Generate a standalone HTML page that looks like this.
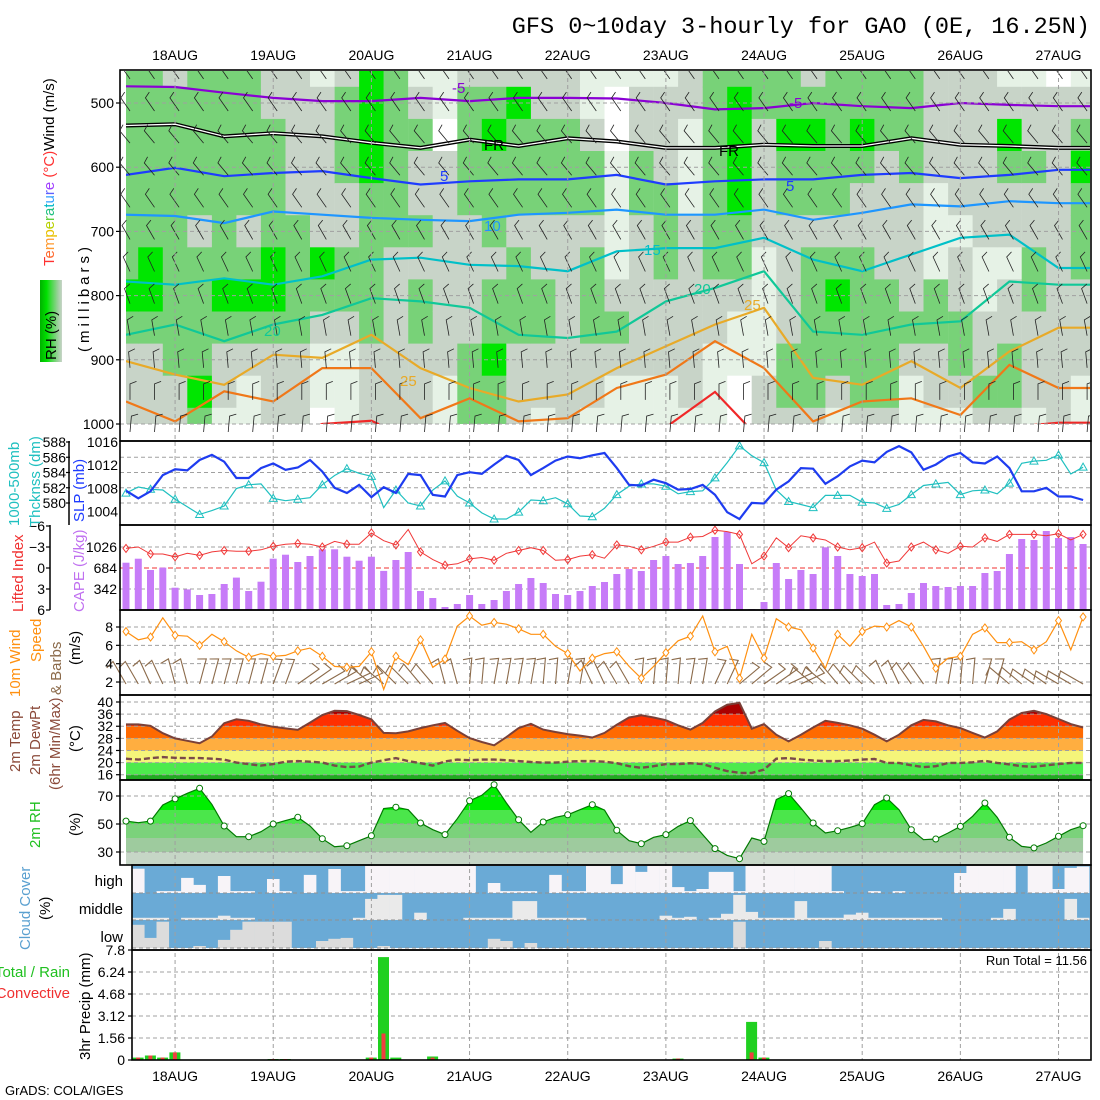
<!DOCTYPE html>
<html><head><meta charset="utf-8"><style>
body{margin:0;background:#fff}
svg{display:block;font-family:"Liberation Sans",sans-serif}
</style></head><body>
<svg id="chart" width="1100" height="1100" viewBox="0 0 1100 1100" xmlns="http://www.w3.org/2000/svg">
<defs>
<clipPath id="clipP1"><rect x="126" y="71" width="964" height="353"/></clipPath>
<clipPath id="clipBarb"><rect x="121" y="71" width="969" height="369"/></clipPath>
<linearGradient id="rhbar" x1="0" x2="1" y1="0" y2="0">
<stop offset="0" stop-color="#00b000"/><stop offset="0.3" stop-color="#00e000"/><stop offset="0.55" stop-color="#50d850"/><stop offset="0.8" stop-color="#98d098"/><stop offset="1" stop-color="#c8d4c8"/>
</linearGradient>
</defs>
<rect x="0" y="0" width="1100" height="1100" fill="#fff"/>
<g id="g-p1"></g>
<g id="g-panels"></g>
<g id="g-grid"></g>
<g id="g-series"></g>
<g id="g-frames"></g>
<g id="g-ticks" font-size="14" fill="#000"></g>

<text x="1090" y="33" text-anchor="end" font-family="Liberation Mono, monospace" font-size="23.5">GFS 0~10day 3-hourly for GAO (0E, 16.25N)</text>

<rect x="40" y="280" width="22" height="82" fill="url(#rhbar)"/>
<text transform="translate(56,360) rotate(-90)" font-size="15">RH (%)</text>
<text transform="translate(54,266) rotate(-90)" font-size="15"><tspan fill="#ff3030">T</tspan><tspan fill="#ff6a30">e</tspan><tspan fill="#ff9a30">m</tspan><tspan fill="#e8c000">p</tspan><tspan fill="#b8d000">e</tspan><tspan fill="#60d040">r</tspan><tspan fill="#20c080">a</tspan><tspan fill="#00b8c8">t</tspan><tspan fill="#30a0ff">u</tspan><tspan fill="#6060ff">r</tspan><tspan fill="#a040ff">e</tspan><tspan fill="#ff3030"> (°C)</tspan><tspan fill="#000">Wind (m/s)</tspan></text>
<text transform="translate(89,352) rotate(-90)" font-size="15" letter-spacing="4">(millibars)</text>

<text transform="translate(19,526) rotate(-90)" font-size="15" fill="#20c0c0">1000-500mb</text>
<text transform="translate(40,527) rotate(-90)" font-size="15" fill="#20c0c0">Thcknss (dm)</text>
<text transform="translate(84,522) rotate(-90)" font-size="15" fill="#1e3cff">SLP (mb)</text>
<text transform="translate(23,612) rotate(-90)" font-size="15" fill="#f03030">Lifted Index</text>
<text transform="translate(84,612) rotate(-90)" font-size="15" fill="#c070f0">CAPE (J/kg)</text>
<text transform="translate(20,697) rotate(-90)" font-size="15" fill="#ff9010">10m Wind</text>
<text transform="translate(41,662) rotate(-90)" font-size="15" fill="#ff9010">Speed</text>
<text transform="translate(61,695) rotate(-90)" font-size="15" fill="#8b6a4a">&amp; Barbs</text>
<text transform="translate(80,665) rotate(-90)" font-size="15">(m/s)</text>
<text transform="translate(20,772) rotate(-90)" font-size="15" fill="#8b4a3a">2m Temp</text>
<text transform="translate(40,775) rotate(-90)" font-size="15" fill="#8b4a3a">2m DewPt</text>
<text transform="translate(60,790) rotate(-90)" font-size="15" fill="#8b4a3a">(6hr Min/Max)</text>
<text transform="translate(80,752) rotate(-90)" font-size="15">(°C)</text>
<text transform="translate(40,848) rotate(-90)" font-size="15" fill="#20c020">2m RH</text>
<text transform="translate(80,836) rotate(-90)" font-size="15">(%)</text>
<text transform="translate(30,950) rotate(-90)" font-size="15" fill="#5aa0d0">Cloud Cover</text>
<text transform="translate(50,920) rotate(-90)" font-size="15">(%)</text>
<text x="123" y="886" text-anchor="end" font-size="15">high</text>
<text x="123" y="914" text-anchor="end" font-size="15">middle</text>
<text x="123" y="942" text-anchor="end" font-size="15">low</text>
<text x="70" y="977" text-anchor="end" font-size="15" fill="#20c020">Total / Rain</text>
<text x="70" y="998" text-anchor="end" font-size="15" fill="#f03030">Convective</text>
<text transform="translate(90,1060) rotate(-90)" font-size="15">3hr Precip (mm)</text>
<text x="1087" y="965" text-anchor="end" font-size="13">Run Total = 11.56</text>
<text x="5" y="1095" font-size="13">GrADS: COLA/IGES</text>
</svg>
<script>
const dayLabels=["18AUG","19AUG","20AUG","21AUG","22AUG","23AUG","24AUG","25AUG","26AUG","27AUG"];
const slp=[1007.6,1006.3,1007.5,1010.3,1011.3,1011.1,1012.9,1013.8,1012.6,1009.8,1009.8,1011.5,1012.3,1011.2,1011.6,1012.9,1010.9,1008.1,1007.2,1008.6,1006.5,1008.2,1007.2,1010.5,1010.3,1006.9,1006.6,1010.3,1010.8,1010.5,1012.1,1013.6,1012.9,1010.3,1011.5,1012.8,1013.5,1013.2,1013.7,1014.1,1011.5,1008.6,1008.5,1009.5,1008.9,1007.8,1007.9,1008.6,1006.9,1003.9,1002.7,1005.5,1005.4,1007.8,1009.2,1011.5,1011.4,1008.8,1010.1,1011.8,1012.8,1012.5,1014.3,1015.3,1014.2,1011.2,1012.1,1013.5,1014.1,1012.5,1012.3,1013.5,1011.5,1007.5,1007.5,1008.1,1006.6,1006.6,1006.0];
const thick=[581.3,582.1,581.8,581.7,580.5,579.5,578.5,579.0,579.6,581.9,582.4,582.5,580.6,580.3,580.5,580.7,582.4,583.6,584.5,583.9,583.5,579.4,581.7,580.0,579.6,581.7,582.9,580.9,580.0,578.7,577.9,577.9,578.8,580.4,580.3,580.7,579.9,578.3,578.2,579.3,581.1,582.2,582.5,582.5,582.2,581.2,581.5,581.6,583.3,585.3,587.5,586.2,585.3,581.7,580.2,579.8,579.4,581.0,581.0,581.0,580.1,580.0,579.3,579.8,581.1,582.3,582.5,582.7,581.1,581.6,581.7,581.2,582.6,585.2,585.5,585.6,586.3,583.8,584.7];
const cape=[771,836,652,690,364,336,244,261,424,527,310,461,836,901,782,880,988,988,868,803,868,637,814,945,310,195,49,98,244,98,163,310,424,521,440,261,244,310,391,456,586,668,635,814,880,749,766,880,1189,1271,749,16,130,766,505,652,586,1021,880,586,554,586,81,98,277,440,391,375,391,391,603,635,912,1157,1140,1287,1173,1189,1075];
const liftedIndex=[-2.8,-3.0,-2.0,-2.0,-1.6,-2.1,-1.8,-2.3,-2.5,-2.4,-2.4,-2.6,-3.1,-3.4,-3.5,-3.4,-3.0,-3.8,-3.4,-3.4,-5.0,-3.9,-3.3,-5.5,-2.3,-1.2,-0.4,-0.6,-1.3,-1.5,-1.1,-2.1,-2.5,-2.9,-2.5,-1.1,-1.2,-1.7,-1.9,-1.4,-3.3,-3.1,-2.6,-3.1,-3.7,-3.7,-4.4,-4.5,-5.4,-5.2,-4.8,-0.6,-1.7,-4.3,-2.9,-4.6,-4.3,-4.0,-3.0,-2.6,-2.9,-3.7,-0.7,-1.0,-3.0,-3.7,-2.6,-2.1,-3.1,-3.0,-4.3,-3.8,-4.8,-4.8,-4.8,-4.6,-4.9,-4.0,-4.8];
const windSpeed=[7.5,6.6,6.9,9.0,7.1,7.0,6.0,7.2,6.4,5.4,4.7,5.1,4.8,4.9,5.4,5.7,4.8,3.7,3.6,3.7,5.3,1.2,4.8,3.9,6.6,3.6,4.5,8.1,9.2,8.2,8.5,8.3,7.8,7.2,7.2,5.9,5.1,3.2,4.6,5.1,5.3,3.7,2.4,3.7,5.2,6.5,7.0,9.2,5.3,5.9,2.4,7.2,4.6,8.9,8.0,7.7,5.7,3.5,7.2,5.9,7.5,8.1,8.0,8.7,8.0,5.9,3.5,4.6,4.8,7.2,7.9,6.3,6.3,6.4,5.5,6.4,8.7,5.5,9.1];
const sfcWindTilt=[-30,-25,-15,15,15,15,20,55,60,65,-50,-45,-40,-15,5,10,10,5,10,-25,-30,5,5,10,25,50,55,65,-50,-40,-45,-25,-35,10,5,15,-50,-55,-60,-60];
const temp2m=[32.6,32.6,32.1,29.7,28.0,27.2,26.4,28.6,33.0,34.3,33.8,32.6,31.8,31.3,30.8,33.2,35.7,37.1,37.0,35.7,34.3,29.8,29.7,30.3,31.4,32.3,33.1,30.5,28.1,26.8,25.7,28.4,31.4,32.8,30.9,30.1,29.4,28.9,28.3,29.8,32.5,34.9,35.6,34.9,34.0,32.3,30.9,33.1,36.9,39.1,39.7,31.2,32.7,29.2,27.0,29.2,31.6,33.8,33.1,32.3,31.2,29.2,27.0,29.2,32.3,34.1,33.6,32.3,31.4,29.8,28.3,30.3,34.2,36.4,37.1,36.0,34.4,32.7,31.6];
const dewpt2m=[21.3,21.0,21.5,21.8,21.6,21.5,21.5,21.3,21.0,20.0,19.5,19.0,19.5,20.3,20.5,20.3,20.0,19.0,18.5,18.7,20.0,20.8,21.5,20.5,19.8,19.0,20.4,21.0,20.8,21.0,21.0,20.8,20.5,20.2,20.0,20.0,20.3,20.5,20.5,20.3,19.8,18.8,18.3,18.8,19.5,19.5,19.8,19.5,18.3,17.2,16.6,16.6,17.7,21.3,21.5,21.0,20.7,20.5,20.5,20.7,21.0,21.2,19.9,19.9,19.1,18.5,18.8,19.9,19.9,20.1,20.6,19.9,19.4,18.8,18.6,19.1,19.5,19.9,19.9];
const rh2m=[52.1,50.9,52.1,63.6,67.9,71.9,75.5,64.0,48.6,40.9,40.9,44.5,50.0,52.4,54.8,48.6,39.5,33.8,34.5,38.1,41.6,61.1,62.0,60.2,50.7,45.9,42.4,53.8,66.6,70.5,78.1,65.0,53.1,44.1,51.4,54.8,56.6,60.2,63.8,59.9,45.5,38.1,35.9,40.5,42.4,48.3,52.4,42.4,32.4,27.6,25.2,40.0,37.6,67.4,71.7,61.4,50.7,43.6,45.2,47.6,50.2,63.8,68.6,60.2,45.9,38.8,39.3,43.6,48.3,55.5,65.0,54.8,40.5,34.0,32.9,36.4,41.2,45.9,48.8];
const cloudHigh=[10,100,93,93,44,70,100,37,93,93,100,48,93,100,33,100,11,93,93,0,0,0,0,0,0,0,0,0,100,63,93,93,93,100,33,93,93,0,0,67,0,22,0,0,78,93,85,22,22,93,0,0,0,0,0,0,0,93,100,100,93,100,93,100,100,100,100,26,0,0,0,0,100,0,0,85,7,2];
const cloudMid=[92,92,92,100,92,92,92,84,92,92,100,100,100,100,100,100,100,100,92,22,7,7,100,73,100,100,100,92,92,92,92,30,30,92,92,92,92,100,100,100,100,100,100,84,92,88,100,92,77,7,70,92,92,92,30,92,92,92,80,73,92,92,92,92,92,92,100,100,100,100,92,59,100,100,100,100,22,92];
const cloudLow=[17,64,6,100,100,93,100,71,35,6,6,6,6,100,100,75,67,64,100,100,93,100,100,100,100,100,100,100,100,67,75,100,82,100,100,100,100,100,100,100,100,100,100,100,100,100,100,100,100,6,100,100,100,100,100,100,75,100,100,100,100,100,100,100,100,100,100,100,100,100,100,100,100,100,100,100,100,100];
const precipTotal=[0.17,0.32,0.17,0.54,0,0,0,0,0,0,0,0.07,0.07,0,0,0,0,0,0,0.17,7.3,0.17,0,0,0.25,0,0,0,0,0,0,0,0,0,0,0,0,0,0,0,0,0,0,0,0.1,0,0,0,0,0,2.7,0.17,0,0,0,0,0,0,0,0,0,0,0,0,0,0,0,0,0,0,0,0,0,0,0,0,0,0];
const precipConv=[0.17,0.32,0.17,0.54,0,0,0,0,0,0,0,0.07,0.07,0,0,0,0,0,0,0.17,1.88,0,0,0,0.17,0,0,0,0,0,0,0,0,0,0,0,0,0,0,0,0,0,0,0,0.1,0,0,0,0,0,0.54,0.17,0,0,0,0,0,0,0,0,0,0,0,0,0,0,0,0,0,0,0,0,0,0,0,0,0,0];
const pLevels=[450,500,550,600,650,700,750,800,850,900,950,1000];
const rhClassGrid=["GGGGGGGBGggg","GGGGGGBBGggg","gGGGGGGGGGgg","GGGGGgGGGGBG","GGGGGGGBGggl","GGGGGgGBGgll","ggGGGGBBGggg","gggggGGGGggg","lgggggBGgllw","gGGGggGGglll","BBBBGGGGGggg","GGGGGGgggggg","lgGggGgGGggg","llwgggggggll","gGGGGggggGGG","gGBGGGgGGBGG","gBGGGgGGGggg","ggGGGggGGggl","ggGGGggggggg","llgGGgGGGggl","lwwllllgGgll","lggGGgggggll","lgggGGGgggll","gglllggggggl","GGGGGGGgglll","GBBBBGGgllww","GGggggllllgg","GGBGGggggGGg","gGBGGgGGGGGg","GGGGGgGBGGgl","GGBGggGGGGGg","GGGggggGGGGg","GGGGggggGgll","gggglllGGggl","ggggglggGGgl","ggggggllggGg","lgBGgglggGGg","lggGggGGgggl","wggggggggggg","lgGBGGGgggll"];
const levelWindAngle=[125,125,130,130,125,120,115,110,100,95,90,85];
const isoM5=[474,475,484,492,497,497,492,497,492,492,493,500,510,508,500,505,508,500,503,505];
const iso0=[535,533,552,547,552,562,570,557,567,555,560,570,570,565,567,567,555,565,567,570];
const iso5=[612,601,614,609,606,617,627,622,619,619,612,627,622,619,619,612,609,617,612,604];
const iso10=[674,676,687,669,674,679,682,684,674,671,666,674,674,666,682,671,658,661,653,656];
const iso15=[778,783,773,783,770,744,741,752,754,762,731,726,726,710,744,762,736,710,705,757];
const iso20=[861,845,871,845,830,804,809,819,861,866,856,809,788,762,856,861,845,840,778,783];
const iso25=[902,923,939,892,897,861,913,944,965,954,913,879,845,819,928,939,902,944,887,850];
const iso30=[965,996,949,965,913,913,991,960,996,991,944,923,871,913,996,965,960,986,908,944];
const iso35=[1030,1030,1030,1030,1000,995,1030,1030,1030,1030,1030,1005,950,1030,1030,1030,1030,1030,1005,998];
const pTicks=[500,600,700,800,900,1000];
const slpTicks=[1016,1012,1008,1004];
const thickTicks=[588,586,584,582,580];
const liTicks=[-6,-3,0,3,6];
const capeTicks=[1026,684,342];
const wsTicks=[8,6,4,2];
const tTicks=[40,36,32,28,24,20,16];
const rhTicks=[70,50,30];
const prTicks=["0","1.56","3.12","4.68","6.24","7.8"];

const NS="http://www.w3.org/2000/svg";
function mk(tag,attrs,parent){const e=document.createElementNS(NS,tag);for(const k in attrs)e.setAttribute(k,attrs[k]);parent.appendChild(e);return e;}
const X0=126,DX=12.27;
const px=i=>X0+DX*i;
const yP=p=>103+(p-500)*0.642;
const ySLP=v=>442+(1016-v)*5.8;
const yTh=v=>442+(588-v)*7.625;
const yCape=v=>610-v/16.29;
const yLI=v=>568+v*7;
const yWS=v=>627+(8-v)*9.17;
const yT=v=>702+(40-v)*3.03;
const yRH=v=>796+(70-v)*1.4;
const yPr=v=>1060-v*14.1;
const colX=j=>132+DX*j;

const gP1=document.getElementById('g-p1');
const gPan=document.getElementById('g-panels');
const gGrid=document.getElementById('g-grid');
const gSer=document.getElementById('g-series');
const gFr=document.getElementById('g-frames');
const gTk=document.getElementById('g-ticks');

const rhColors={w:'#ffffff',l:'#e6f2e6',g:'#c8d4c8',G:'#78d278',B:'#00e600'};
const p1c=mk('g',{'clip-path':'url(#clipP1)'},gP1);
rhClassGrid.forEach((col,c)=>{
  const xc=px(2*c);
  for(let k=0;k<pLevels.length;k++){
    const yc=yP(pLevels[k]);
    const cell=mk('rect',{x:(xc-12.3).toFixed(1),y:(yc-16.2).toFixed(1),width:24.8,height:32.6,fill:rhColors[col[k]]},p1c);
    
    
  }
});
pTicks.forEach(p=>{
  const l=mk('line',{x1:120,x2:1090,y1:yP(p),y2:yP(p),stroke:'#a0a0a0','stroke-dasharray':'4,3','stroke-width':1},gP1);
  
  
});
const isoDefs=[[isoM5,'#8a00d4'],[iso5,'#1e3cff'],[iso10,'#1e96ff'],[iso15,'#00c0c8'],[iso20,'#10c898'],[iso25,'#e8aa28'],[iso30,'#f07818'],[iso35,'#f02828']];
function isoPts(arr){let s=arr.map((p,k)=>px(4*k).toFixed(1)+','+yP(p).toFixed(1)).join(' ');s+=' 1090,'+yP(arr[arr.length-1]).toFixed(1);return s;}
isoDefs.forEach(([arr,col])=>{
  const pl=mk('polyline',{points:isoPts(arr),fill:'none',stroke:col,'stroke-width':2.2},p1c);
  
  
});
const fr1=mk('polyline',{points:isoPts(iso0),fill:'none',stroke:'#000','stroke-width':4},p1c);


const fr2=mk('polyline',{points:isoPts(iso0),fill:'none',stroke:'#fff','stroke-width':1.3},p1c);


const barbG=mk('g',{'clip-path':'url(#clipBarb)'},gP1);
rhClassGrid.forEach((col,c)=>{
  const xb=px(2*c)+4;
  pLevels.forEach((p,k)=>{
    const a=levelWindAngle[k]*Math.PI/180;
    const yb=yP(p)+8;
    const x2=xb+Math.cos(a)*16, y2=yb-Math.sin(a)*16;
    const a2=a-1.2;
    const d='M'+xb.toFixed(1)+','+yb.toFixed(1)+'L'+x2.toFixed(1)+','+y2.toFixed(1)+'L'+(x2+Math.cos(a2)*7).toFixed(1)+','+(y2-Math.sin(a2)*7).toFixed(1);
    const b=mk('path',{d:d,fill:'none',stroke:'#222','stroke-width':0.8},barbG);
    
    
  });
});
[["-5",452,93,'#8a00d4'],["-5",789,108,'#8a00d4'],["FR",484,150,'#000'],["FR",719,156,'#000'],["5",440,181,'#1e3cff'],["5",786,191,'#1e3cff'],["10",484,231,'#1e96ff'],["15",644,255,'#00c0c8'],["20",264,336,'#10c898'],["20",694,294,'#10c898'],["25",400,386,'#e8aa28'],["25",744,310,'#e8aa28']].forEach(([t,x,y,c])=>{
  const tx=mk('text',{x:x,y:y,fill:c,'font-size':15},gP1);
  tx.textContent=t;
  
  
});

function fillBands(vals,yf,bands,bottom,name){
  const id='clip-'+name;
  const cp=mk('clipPath',{id:id},gPan);
  const pts=px(0)+','+bottom+' '+vals.map((v,i)=>px(i).toFixed(1)+','+yf(v).toFixed(1)).join(' ')+' '+px(vals.length-1)+','+bottom;
  mk('polygon',{points:pts},cp);
  const g=mk('g',{'clip-path':'url(#'+id+')'},gPan);
  bands.forEach(([lo,hi,c])=>{
    const y1=yf(hi),y2=yf(lo);
    const r=mk('rect',{x:120,y:y1.toFixed(1),width:970,height:(y2-y1).toFixed(1),fill:c},g);
    
    
  });
}
fillBands(temp2m,yT,[[36,80,'#aa0000'],[32,36,'#ff3000'],[28,32,'#ff6a00'],[24,28,'#ffae40'],[20,24,'#f5f57a'],[16,20,'#4dea4d'],[0,16,'#22aa22']],780,'temp-fill');
fillBands(rh2m,yRH,[[60,120,'#00ee00'],[50,60,'#4be64b'],[40,50,'#7bd27b'],[30,40,'#9ecb9e'],[-20,30,'#c6d6c6']],865,'rh-fill');

const cloudBands=[[cloudHigh,866,893,'#f8f4f8','high'],[cloudMid,893,920,'#eaeaea','middle'],[cloudLow,920,948,'#dcdcdc','low']];
cloudBands.forEach(([arr,top,bot,clr,nm])=>{
  const bg=mk('rect',{x:132,y:top,width:958,height:bot-top,fill:'#6aaad6'},gPan);
  
  
  arr.forEach((v,j)=>{
    const h=(bot-top)*(100-v)/100;
    if(h<=0)return;
    const r=mk('rect',{x:colX(j).toFixed(1),y:(bot-h).toFixed(1),width:DX+0.3,height:h.toFixed(1),fill:clr},gPan);
    
    
  });
});

dayLabels.forEach((d,k)=>{
  const x=px(4+8*k);
  const l=mk('line',{x1:x,x2:x,y1:71,y2:1060,stroke:'#a0a0a0','stroke-dasharray':'4,3','stroke-width':1},gGrid);
  
  
  const t1=mk('text',{x:x,y:60,'text-anchor':'middle','font-size':14},gTk);
  t1.textContent=d;
  
  
  const t2=mk('text',{x:x,y:1081,'text-anchor':'middle','font-size':14},gTk);
  t2.textContent=d;
  
  
});
function hgrid(y,x1,name,color,dash){
  const l=mk('line',{x1:x1,x2:1090,y1:y,y2:y,stroke:color||'#a0a0a0','stroke-dasharray':dash||'4,3','stroke-width':1},gGrid);
  
  
}
thickTicks.slice(1).forEach(v=>hgrid(yTh(v),120,'thickness-gridline'));
[-3,3].forEach(v=>hgrid(yLI(v),120,'li-gridline'));
wsTicks.forEach(v=>hgrid(yWS(v),120,'wind-gridline'));
tTicks.forEach(v=>hgrid(yT(v),120,'temp-gridline'));
rhTicks.forEach(v=>hgrid(yRH(v),120,'rh-gridline'));
[893,920,948].forEach(v=>hgrid(v,132,'cloud-gridline','#909090'));
prTicks.slice(1).forEach(v=>hgrid(yPr(+v),132,'precip-gridline'));

function poly(vals,yf,color,w,name,dash){
  const pl=mk('polyline',{points:vals.map((v,i)=>px(i).toFixed(1)+','+yf(v).toFixed(1)).join(' '),fill:'none',stroke:color,'stroke-width':w},gSer);
  if(dash)pl.setAttribute('stroke-dasharray',dash);
  
  
}
poly(thick,yTh,'#20c0c0',1.2,'thickness-line');
thick.forEach((v,i)=>{
  if(i%2)return;
  const x=px(i),y=yTh(v);
  const m=mk('path',{d:'M'+(x-4)+','+(y+3)+'L'+x+','+(y-4)+'L'+(x+4)+','+(y+3)+'Z',fill:'none',stroke:'#20c0c0','stroke-width':1},gSer);
  
  
});
poly(slp,ySLP,'#1e3cf0',2.2,'slp-line');
cape.forEach((v,i)=>{
  const y=yCape(v);
  const b=mk('rect',{x:(px(i)-3.5).toFixed(1),y:y.toFixed(1),width:7,height:(610-y).toFixed(1),fill:'#c77cf8'},gSer);
  
  
});
hgrid(568,120,'li-zero-line','#f03030','5,3');
poly(liftedIndex,yLI,'#f03838',1,'lifted-index-line');
liftedIndex.forEach((v,i)=>{
  if(i%2)return;
  const x=px(i),y=yLI(v);
  const m=mk('path',{d:'M'+x+','+(y-4)+'L'+(x+3)+','+y+'L'+x+','+(y+4)+'L'+(x-3)+','+y+'Z',fill:'none',stroke:'#f03838','stroke-width':1},gSer);
  
  
});
windSpeed.forEach((v,i)=>{
  const t=sfcWindTilt[Math.floor(i/2)]*Math.PI/180;
  const xb=px(i),yb=684;
  const x2=xb+Math.sin(t)*26,y2=yb-Math.cos(t)*26;
  const f=t+1.3;
  const d='M'+xb.toFixed(1)+','+yb+'L'+x2.toFixed(1)+','+y2.toFixed(1)+'L'+(x2-Math.sin(f)*9).toFixed(1)+','+(y2+Math.cos(f)*9).toFixed(1);
  const b=mk('path',{d:d,fill:'none',stroke:'#8b6a4a','stroke-width':1.1},gSer);
  
  
});
poly(windSpeed,yWS,'#ff9010',1.2,'wind-speed-line');
windSpeed.forEach((v,i)=>{
  if(i%2)return;
  const x=px(i),y=yWS(v);
  const m=mk('path',{d:'M'+x+','+(y-4)+'L'+(x+3)+','+y+'L'+x+','+(y+4)+'L'+(x-3)+','+y+'Z',fill:'#fff',stroke:'#ff9010','stroke-width':1},gSer);
  
  
});
poly(temp2m,yT,'#7a4038',2,'temperature-line');
poly(dewpt2m,yT,'#7a4a4a',2.4,'dewpoint-line','6,3');
poly(rh2m,yRH,'#007a00',1.2,'rh2m-line');
rh2m.forEach((v,i)=>{
  if(i%2)return;
  const c=mk('circle',{cx:px(i).toFixed(1),cy:yRH(v).toFixed(1),r:3,fill:'#fff',stroke:'#007a00','stroke-width':1},gSer);
  
  
});
precipTotal.forEach((v,j)=>{
  if(v<=0)return;
  const y=yPr(v);
  const b=mk('rect',{x:(colX(j)+0.6).toFixed(1),y:y.toFixed(1),width:11,height:(1060-y).toFixed(1),fill:'#20d020'},gSer);
  
  
});
precipConv.forEach((v,j)=>{
  if(v<=0)return;
  const y=yPr(v);
  const b=mk('rect',{x:(colX(j)+4.1).toFixed(1),y:y.toFixed(1),width:4,height:(1060-y).toFixed(1),fill:'#f04040'},gSer);
  
  
});

[[120,70,971,371,'upper-air-frame'],[120,441,971,84,'slp-frame'],[120,525,971,85,'cape-frame'],[120,610,971,85,'wind-frame'],[120,695,971,85,'temp-frame'],[120,780,971,85,'rh-frame'],[132,865,959,85,'cloud-frame'],[132,950,959,110,'precip-frame']].forEach(([x,y,w,h,n])=>{
  const r=mk('rect',{x:x,y:y,width:w,height:h,fill:'none',stroke:'#000','stroke-width':1.6},gFr);
  
  
});
const ax1=mk('line',{x1:69,x2:69,y1:441,y2:525,stroke:'#000','stroke-width':1.5},gFr);


const ax2=mk('line',{x1:50,x2:50,y1:525,y2:610,stroke:'#000','stroke-width':1.5},gFr);



function tick(txt,x,y,name,tickX){
  const t=mk('text',{x:x,y:y+5,'text-anchor':'end'},gTk);
  t.textContent=txt;
  
  
  if(tickX!==undefined){
    const l=mk('line',{x1:tickX,x2:tickX+4,y1:y,y2:y,stroke:'#000','stroke-width':1.2},gTk);
    
    
  }
}
pTicks.forEach(v=>tick(String(v),114,yP(v),'pressure-tick',116));
slpTicks.forEach(v=>tick(String(v),118,ySLP(v),'slp-tick'));
thickTicks.forEach(v=>tick(String(v),66,yTh(v),'thickness-tick',66));
liTicks.forEach(v=>tick(v<0?'\u2212'+(-v):String(v),45,yLI(v),'li-tick',46));
capeTicks.forEach(v=>tick(String(v),117,yCape(v),'cape-tick'));
wsTicks.forEach(v=>tick(String(v),113,yWS(v),'wind-speed-tick',116));
tTicks.forEach(v=>tick(String(v),113,yT(v),'temp-tick',116));
rhTicks.forEach(v=>tick(String(v),113,yRH(v),'rh-tick',116));
prTicks.forEach(v=>tick(v,125,yPr(+v),'precip-tick',128));
</script>
</body></html>
